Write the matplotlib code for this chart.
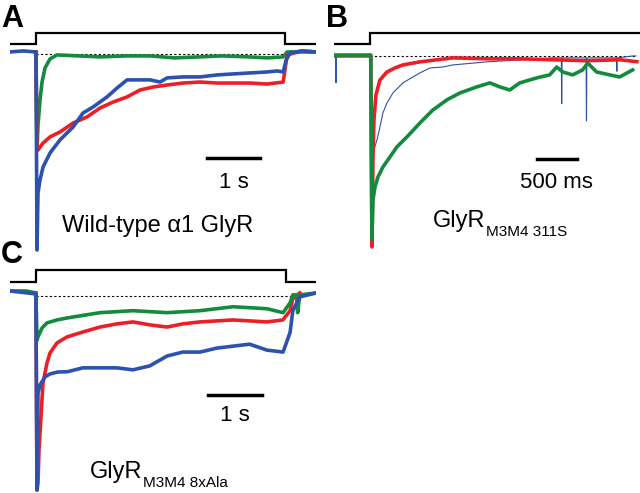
import matplotlib

matplotlib.use("Agg")

import matplotlib.pyplot as plt

plt.rcParams["font.family"] = ["Liberation Sans", "DejaVu Sans"]

W, H = 640, 493
RED = "#ec1f26"
BLUE = "#2c52ad"
GREEN = "#138a3c"

# Panel A: wild-type alpha1 GlyR (time in s, current normalised to the largest peak)
a_stim_on, a_stim_off, a_end = 0.49, 5.19, 5.77
a_blue_t = [0, 0.25, 0.49, 0.509, 0.528, 0.566, 0.623, 0.755, 0.943, 1.189, 1.377, 1.566, 1.830,
            2.019, 2.208, 2.642, 2.830, 2.962, 3.264, 3.585, 3.906, 4.208, 4.528, 4.849, 5.038,
            5.151, 5.208, 5.283, 5.50, 5.77]
a_blue_i = [0, 0.005, 0, -1.0, -0.712, -0.646, -0.581, -0.510, -0.444, -0.379, -0.308, -0.278,
            -0.227, -0.182, -0.141, -0.141, -0.152, -0.131, -0.126, -0.126, -0.116, -0.111, -0.106,
            -0.101, -0.096, -0.101, -0.04, -0.005, 0.005, 0]
a_red_t = [0.49, 0.509, 0.528, 0.623, 0.755, 0.943, 1.189, 1.453, 1.698, 1.943, 2.208, 2.453, 2.698,
           2.962, 3.264, 3.585, 3.906, 4.208, 4.528, 4.849, 5.151, 5.226, 5.50, 5.77]
a_red_i = [0, -0.495, -0.495, -0.460, -0.429, -0.404, -0.359, -0.328, -0.283, -0.253, -0.227,
           -0.192, -0.177, -0.167, -0.157, -0.152, -0.157, -0.157, -0.157, -0.162, -0.152, -0.015,
           0.005, 0]
a_green_t = [0.49, 0.509, 0.528, 0.566, 0.604, 0.660, 0.755, 0.887, 1.30, 1.70, 2.20, 2.64, 3.10,
             3.58, 4.00, 4.50, 4.85, 5.15, 5.226, 5.77]
a_green_i = [0, -0.495, -0.369, -0.242, -0.152, -0.081, -0.035, -0.015, -0.02, -0.025, -0.02,
             -0.02, -0.03, -0.025, -0.02, -0.025, -0.03, -0.025, 0, 0]

# Panel B: GlyR M3M4 311S
b_stim_on, b_end = 0.45, 3.83
b_blue_t = [0, 0.02, 0.025, 0.03, 0.46, 0.475, 0.4875, 0.5375, 0.575, 0.6125, 0.6625, 0.7375,
            0.8625, 0.9875, 1.075, 1.2, 1.3625, 1.4875, 1.9125, 2.325, 2.7375, 2.845, 2.85, 2.855,
            3.155, 3.16, 3.165, 3.535, 3.54, 3.545, 3.74, 3.78]
b_blue_i = [0, 0, -0.14, 0, 0, -0.78, -0.508, -0.440, -0.372, -0.298, -0.246, -0.194, -0.141,
            -0.110, -0.089, -0.063, -0.058, -0.047, -0.031, -0.021, -0.010, -0.01, -0.25, -0.01,
            -0.01, -0.34, -0.01, -0.01, -0.08, -0.01, 0, 0]
b_red_t = [0, 0.46, 0.475, 0.4875, 0.50, 0.525, 0.575, 0.6625, 0.7625, 0.8625, 1.075, 1.49, 1.91,
           2.33, 2.74, 3.16, 3.58, 3.79]
b_red_i = [0, 0, -1.0, -0.545, -0.335, -0.204, -0.126, -0.084, -0.063, -0.047, -0.031, -0.01,
           -0.015, -0.015, -0.02, -0.025, -0.02, -0.03]
b_green_t = [0, 0.46, 0.475, 0.4875, 0.5125, 0.55, 0.6125, 0.70, 0.7875, 0.9125, 1.075, 1.2375,
             1.4125, 1.575, 1.7875, 1.95, 2.075, 2.2, 2.325, 2.5375, 2.70, 2.7875, 2.8625, 2.9875,
             3.1125, 3.175, 3.2875, 3.45, 3.575, 3.7375]
b_green_i = [0.005, 0.005, -0.96, -0.754, -0.686, -0.634, -0.581, -0.529, -0.476, -0.424, -0.351,
             -0.283, -0.230, -0.194, -0.162, -0.141, -0.162, -0.178, -0.141, -0.115, -0.099, -0.058,
             -0.084, -0.099, -0.073, -0.037, -0.084, -0.099, -0.110, -0.073]

# Panel C: GlyR M3M4 8xAla
c_stim_on, c_stim_off, c_end = 0.48, 5.11, 5.67
c_blue_t = [0, 0.48, 0.50, 0.519, 0.556, 0.648, 0.741, 0.889, 1.06, 1.35, 1.67, 1.98, 2.28, 2.59,
            2.91, 3.20, 3.52, 3.83, 4.13, 4.44, 4.76, 5.06, 5.19, 5.24, 5.37, 5.67]
c_blue_i = [0.01, -0.005, -1.0, -0.508, -0.467, -0.426, -0.411, -0.401, -0.40, -0.38, -0.38, -0.38,
            -0.39, -0.37, -0.32, -0.30, -0.30, -0.28, -0.27, -0.26, -0.29, -0.30, -0.20, -0.09,
            -0.02, 0]
c_red_t = [0.48, 0.50, 0.519, 0.537, 0.574, 0.611, 0.685, 0.741, 0.870, 1.056, 1.352, 1.667, 1.981,
           2.278, 2.593, 2.907, 3.204, 3.519, 4.130, 4.759, 5.056, 5.19, 5.24, 5.37]
c_red_i = [0, -1.0, -0.964, -0.797, -0.629, -0.457, -0.355, -0.305, -0.254, -0.223, -0.198, -0.173,
           -0.157, -0.147, -0.162, -0.173, -0.157, -0.147, -0.137, -0.147, -0.137, -0.09, -0.03, 0]
c_green_t = [0, 0.30, 0.48, 0.50, 0.519, 0.593, 0.685, 0.870, 1.056, 1.67, 2.28, 2.91, 3.52, 4.13,
             4.76, 5.06, 5.19, 5.24, 5.31, 5.33, 5.37, 5.67]
c_green_i = [0.01, 0.01, 0, -0.24, -0.223, -0.178, -0.152, -0.137, -0.127, -0.10, -0.09, -0.10,
             -0.09, -0.07, -0.08, -0.10, -0.05, -0.01, -0.01, -0.10, -0.01, 0]


def px_axes(fig, x0, x1, y0, y1):
    ax = fig.add_axes([x0 / W, 1 - y1 / H, (x1 - x0) / W, (y1 - y0) / H])
    ax.set_axis_off()
    return ax


def draw_stim(ax, times, levels):
    ax.plot(times, levels, color="black", lw=1.6, solid_joinstyle="miter")


def construct_label(ax, x, y, main, sub):
    t = ax.text(x, y, main, ha="left", va="baseline", fontsize=17)
    ax.annotate(sub, xy=(1, 0), xycoords=t, xytext=(0.5, -3), textcoords="offset points",
                ha="left", va="baseline", fontsize=11)


fig = plt.figure(figsize=(W / 100, H / 100), dpi=100)
TRACE_LW = 2.6

# ---- A ----
ax = px_axes(fig, 10, 316, 25, 255)
ax.set_xlim(0, a_end)
ax.set_ylim(-1.025, 0.136)
draw_stim(ax, [0, a_stim_on, a_stim_on, a_stim_off, a_stim_off, a_end],
          [0.04, 0.04, 0.096, 0.096, 0.04, 0.04])
ax.plot([a_stim_on, a_stim_off], [-0.01, -0.01], color="black", lw=0.8, ls=(0, (2, 2)))
ax.plot(a_green_t, a_green_i, color=GREEN, lw=TRACE_LW)
ax.plot(a_red_t, a_red_i, color=RED, lw=TRACE_LW)
ax.plot(a_blue_t, a_blue_i, color=BLUE, lw=TRACE_LW)
ax.plot([3.72, 4.72], [-0.535, -0.535], color="black", lw=2.5)
ax.text(4.22, -0.66, "1 s", ha="center", va="center", fontsize=16)
ax.text(2.79, -0.879, "Wild-type \u03b11 GlyR", ha="center", va="center", fontsize=17)

# ---- B ----
ax = px_axes(fig, 334, 640, 25, 255)
ax.set_xlim(0, b_end)
ax.set_ylim(-1.042, 0.162)
draw_stim(ax, [-0.01, b_stim_on, b_stim_on, b_end], [0.063, 0.063, 0.12, 0.12])
ax.plot([b_stim_on, 3.78], [0, 0], color="black", lw=0.8, ls=(0, (2, 2)))
ax.plot(b_blue_t, b_blue_i, color=BLUE, lw=0.8)
ax.plot(b_red_t, b_red_i, color=RED, lw=TRACE_LW)
ax.plot(b_green_t, b_green_i, color=GREEN, lw=TRACE_LW)
ax.plot([2.54, 3.04], [-0.54, -0.54], color="black", lw=2.5)
ax.text(2.79, -0.66, "500 ms", ha="center", va="center", fontsize=16)
construct_label(ax, 1.2375, -0.895, "GlyR", "M3M4 311S")

# ---- C ----
ax = px_axes(fig, 10, 316, 262, 493)
ax.set_xlim(0, c_end)
ax.set_ylim(-1.015, 0.157)
draw_stim(ax, [0, c_stim_on, c_stim_on, c_stim_off, c_stim_off, c_end],
          [0.056, 0.056, 0.117, 0.117, 0.056, 0.056])
ax.plot([c_stim_on, 5.2], [-0.015, -0.015], color="black", lw=0.8, ls=(0, (2, 2)))
ax.plot(c_red_t, c_red_i, color=RED, lw=TRACE_LW)
ax.plot(c_green_t, c_green_i, color=GREEN, lw=TRACE_LW)
ax.plot(c_blue_t, c_blue_i, color=BLUE, lw=TRACE_LW)
ax.plot([3.67, 4.67], [-0.52, -0.52], color="black", lw=2.5)
ax.text(4.17, -0.62, "1 s", ha="center", va="center", fontsize=16)
construct_label(ax, 1.481, -0.939, "GlyR", "M3M4 8xAla")

# panel letters
for label, x, y in [("A", 1, 27), ("B", 326, 27), ("C", 1, 263)]:
    fig.text(x / W, 1 - y / H, label, fontsize=22, fontweight="bold", ha="left", va="baseline")

fig.savefig("out.png", dpi=100)
